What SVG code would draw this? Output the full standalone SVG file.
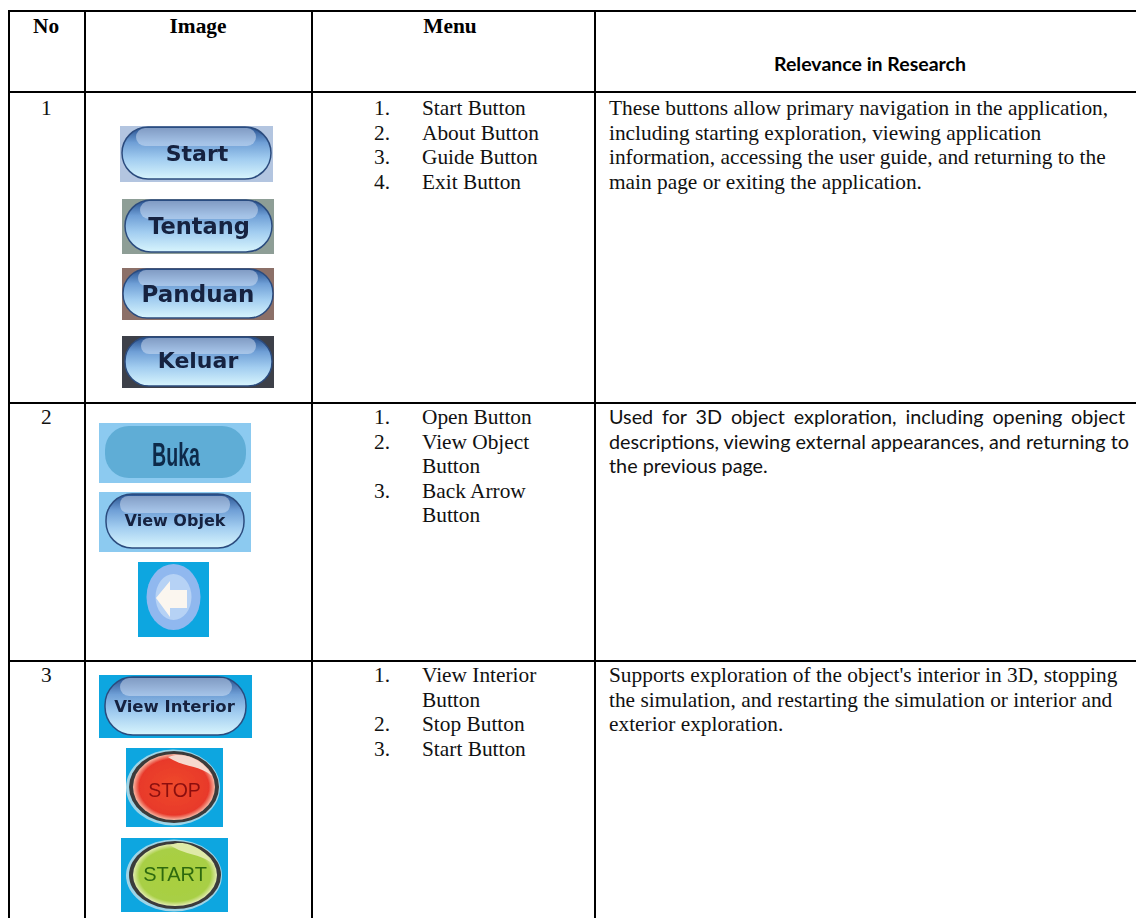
<svg xmlns="http://www.w3.org/2000/svg" width="1136" height="918" viewBox="0 0 1136 918">
<style>
.t{font-family:"Liberation Serif","Times New Roman",serif;font-size:21.35px;fill:#111}
.b{font-weight:700;fill:#000}
.c{font-family:Lato,"Liberation Sans",sans-serif;font-size:19.8px;fill:#111}
.h{font-family:Lato,"Liberation Sans",sans-serif;font-size:19.5px;font-weight:700;fill:#000}
.bt{font-family:"DejaVu Sans","Liberation Sans",sans-serif;font-weight:700;fill:#14213f;text-anchor:middle}
.m{text-anchor:middle}
.l{stroke:#000;stroke-width:2;fill:none}
.pill{fill:url(#pg);stroke:#2c4c7e;stroke-width:1.5}
.gl{fill:#d8e4f6;fill-opacity:.5}
.img{filter:url(#s)}
</style>
<defs>
<linearGradient id="pg" x1="0" y1="0" x2="0" y2="1"><stop offset="0" stop-color="#264f8e"/><stop offset=".3" stop-color="#6f9fd6"/><stop offset=".62" stop-color="#a2cdf0"/><stop offset="1" stop-color="#d8f5fd"/></linearGradient>
<radialGradient id="red"><stop offset="0" stop-color="#ef4a2c"/><stop offset=".85" stop-color="#e8392a"/><stop offset="1" stop-color="#f7b9a5"/></radialGradient>
<radialGradient id="grn"><stop offset="0" stop-color="#a9cf3e"/><stop offset=".85" stop-color="#a8cf45"/><stop offset="1" stop-color="#e2ebb0"/></radialGradient>
<filter id="s" x="-5%" y="-5%" width="110%" height="110%"><feGaussianBlur stdDeviation=".5"/></filter>
</defs>
<rect width="1136" height="918" fill="#fff"/>
<g id="grid" class="l">
<path d="M8 11H1136M8 92H1136M8 403H1136M8 661H1136M9 11V918M85 11V918M312 11V918M595 11V918"/>
</g>
<g id="header">
<text class="t b" x="33" y="33">No</text>
<text class="t b m" x="198" y="33">Image</text>
<text class="t b m" x="450" y="33">Menu</text>
<text class="h m" x="870" y="71">Relevance in Research</text>
</g>
<g id="row1">
<text class="t" x="41" y="115">1</text>
<g id="btn-start" class="img"><rect x="120" y="126" width="153" height="56" fill="#b3c5e0"/><rect class="pill" x="122" y="127" width="149" height="52" rx="26"/><rect class="gl" x="136" y="128" width="120" height="18" rx="9"/><text class="bt" x="197" y="161" font-size="22">Start</text></g>
<g id="btn-tentang" class="img"><rect x="122" y="199" width="152" height="55" fill="#8e9e96"/><rect class="pill" x="125" y="200" width="147" height="52" rx="26"/><rect class="gl" x="140" y="201" width="118" height="18" rx="9"/><text class="bt" x="199" y="234" font-size="22.5">Tentang</text></g>
<g id="btn-panduan" class="img"><rect x="122" y="268" width="152" height="52" fill="#8c7068"/><rect class="pill" x="123" y="269" width="150" height="49" rx="24"/><rect class="gl" x="138" y="270" width="120" height="16" rx="8"/><text class="bt" x="198" y="302" font-size="23">Panduan</text></g>
<g id="btn-keluar" class="img"><rect x="122" y="336" width="152" height="52" fill="#3d3f48"/><rect class="pill" x="125" y="337" width="147" height="49" rx="24"/><rect class="gl" x="141" y="338" width="115" height="16" rx="8"/><text class="bt" x="198" y="368" font-size="22">Keluar</text></g>
<g id="menu1" class="t">
<text x="374" y="115">1.</text><text x="422" y="115">Start Button</text>
<text x="374" y="139.5">2.</text><text x="422" y="139.5">About Button</text>
<text x="374" y="164">3.</text><text x="422" y="164">Guide Button</text>
<text x="374" y="188.5">4.</text><text x="422" y="188.5">Exit Button</text>
</g>
<g id="desc1" class="t">
<text x="609" y="115">These buttons allow primary navigation in the application,</text>
<text x="609" y="139.5">including starting exploration, viewing application</text>
<text x="609" y="164">information, accessing the user guide, and returning to the</text>
<text x="609" y="188.5">main page or exiting the application.</text>
</g>
</g>
<g id="row2">
<text class="t" x="41" y="424">2</text>
<g id="btn-buka" class="img"><rect x="99" y="423" width="152" height="60" fill="#8ccaf0"/><rect x="105" y="426" width="141" height="52" rx="24" fill="#5fadd6"/><text x="176" y="466" font-family="Liberation Sans,sans-serif" font-weight="700" font-size="34" fill="#10294a" text-anchor="middle" textLength="48" lengthAdjust="spacingAndGlyphs">Buka</text></g>
<g id="btn-viewobjek" class="img"><rect x="99" y="492" width="152" height="60" fill="#8ccaf0"/><rect class="pill" x="106" y="494" width="138" height="54" rx="26"/><rect class="gl" x="120" y="496" width="110" height="17" rx="8"/><text class="bt" x="175" y="526" font-size="16">View Objek</text></g>
<g id="btn-back" class="img"><rect x="138" y="562" width="71" height="75" fill="#0ba6e0"/><ellipse cx="173.5" cy="597" rx="27" ry="33" fill="#90b8ef"/><ellipse cx="173.5" cy="597" rx="18" ry="23" fill="#b6d2f5"/><path d="M156 598L170 581V590H187V608H170V617Z" fill="#fbf6ef"/></g>
<g id="menu2" class="t">
<text x="374" y="424">1.</text><text x="422" y="424">Open Button</text>
<text x="374" y="448.5">2.</text><text x="422" y="448.5">View Object</text>
<text x="422" y="473">Button</text>
<text x="374" y="497.5">3.</text><text x="422" y="497.5">Back Arrow</text>
<text x="422" y="522">Button</text>
</g>
<g id="desc2" class="c">
<text x="609" y="424" word-spacing="3.8">Used for 3D object exploration, including opening object</text>
<text x="609" y="448.5">descriptions, viewing external appearances, and returning to</text>
<text x="609" y="473">the previous page.</text>
</g>
</g>
<g id="row3">
<text class="t" x="41" y="682">3</text>
<g id="btn-viewinterior" class="img"><rect x="99" y="675" width="153" height="63" fill="#0ba6e0"/><rect class="pill" x="105" y="677" width="141" height="58" rx="28"/><rect class="gl" x="120" y="678" width="112" height="18" rx="9"/><text class="bt" x="174.5" y="712" font-size="16.5">View Interior</text></g>
<g id="btn-stop" class="img"><rect x="126" y="748" width="97" height="79" fill="#0ba6e0"/><ellipse cx="173" cy="787.5" rx="47" ry="38" fill="#9fd4e6"/><ellipse cx="174" cy="787" rx="45" ry="36" fill="#3b3b3b"/><ellipse cx="174" cy="787" rx="41" ry="33" fill="url(#red)"/><path d="M168 757C185 750 206 762 212 776C200 765 184 768 168 757Z" fill="#f6d9cf"/><text x="174.5" y="797" font-family="Liberation Sans,sans-serif" font-size="19.5" fill="#8c1010" text-anchor="middle">STOP</text></g>
<g id="btn-startgreen" class="img"><rect x="121" y="838" width="107" height="74" fill="#0ba6e0"/><ellipse cx="174" cy="875.5" rx="48" ry="36" fill="#9fd4e6"/><ellipse cx="175" cy="875" rx="46" ry="34" fill="#3b3b3b"/><ellipse cx="175" cy="875" rx="42" ry="31" fill="url(#grn)"/><path d="M170 845C186 838 206 850 213 864C200 853 186 856 170 845Z" fill="#dfeaa8"/><text x="175" y="881" font-family="Liberation Sans,sans-serif" font-size="20" fill="#2f6a10" text-anchor="middle">START</text></g>
<g id="menu3" class="t">
<text x="374" y="682">1.</text><text x="422" y="682">View Interior</text>
<text x="422" y="706.5">Button</text>
<text x="374" y="731">2.</text><text x="422" y="731">Stop Button</text>
<text x="374" y="755.5">3.</text><text x="422" y="755.5">Start Button</text>
</g>
<g id="desc3" class="t">
<text x="609" y="682">Supports exploration of the object's interior in 3D, stopping</text>
<text x="609" y="706.5">the simulation, and restarting the simulation or interior and</text>
<text x="609" y="731">exterior exploration.</text>
</g>
</g>
</svg>
